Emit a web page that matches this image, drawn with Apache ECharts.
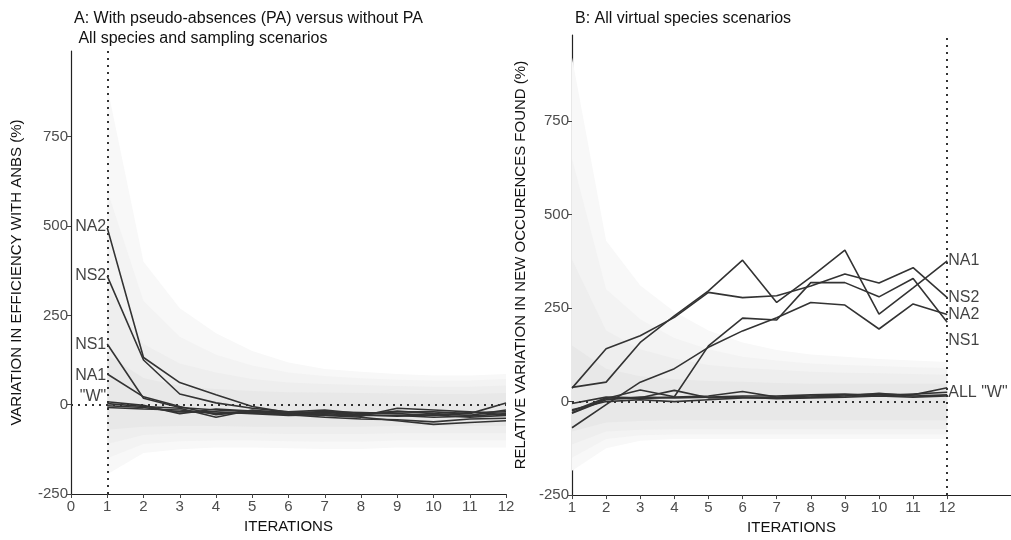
<!DOCTYPE html>
<html><head><meta charset="utf-8">
<script src="https://cdn.jsdelivr.net/npm/echarts@6/dist/echarts.min.js"></script>
<style>html,body{margin:0;padding:0;background:#fff}#c{width:1011px;height:540px}</style>
</head><body><div id="c"></div>
<script>
// ---------- DATA ----------
const iterations = [1,2,3,4,5,6,7,8,9,10,11,12];
const yTicks = [-250, 0, 250, 500, 750];
const xTicksA = [0,1,2,3,4,5,6,7,8,9,10,11,12];
const xTicksB = [1,2,3,4,5,6,7,8,9,10,11,12];

// Panel A: variation in efficiency with ANBS (%)
const A_NA2 = [495, 132, 62, 28, -5, -22, -25, -30, -30, -35, -32, -25];
const A_NS2 = [360, 125, 30, 5, -10, -20, -22, -28, -32, -28, -35, -30];
const A_NS1 = [170, 18, -8, -15, -20, -28, -35, -40, -42, -48, -40, -38];
const A_NA1 = [86, 22, -5, -28, -18, -25, -30, -35, -45, -55, -50, -45];
const A_W1 = [8, -2, -25, -12, -18, -20, -15, -25, -20, -20, -25, 5];
const A_W2 = [3, -5, -10, -35, -15, -25, -20, -22, -25, -30, -22, -20];
const A_W3 = [-3, -8, -20, -20, -25, -30, -28, -32, -10, -15, -20, -28];
const A_W4 = [-8, -12, -15, -25, -22, -27, -18, -28, -18, -25, -30, -15];
const A_labels = ['NA2', 'NS2', 'NS1', 'NA1', '"W"'];
const A_labelY = [498, 361, 168, 81, 22];

// Panel A envelopes (lower / upper), outermost first
const A_env1Lo = [-195, -135, -125, -120, -120, -122, -124, -124, -120, -120, -120, -120];
const A_env1Hi = [890, 400, 270, 200, 150, 118, 100, 92, 86, 82, 82, 86];
const A_env2Lo = [-150, -110, -102, -100, -100, -102, -104, -104, -100, -100, -100, -100];
const A_env2Hi = [600, 290, 190, 140, 110, 90, 80, 74, 70, 68, 68, 72];
const A_env3Lo = [-110, -85, -80, -80, -80, -82, -82, -82, -80, -80, -80, -80];
const A_env3Hi = [330, 170, 115, 90, 72, 62, 58, 55, 52, 50, 50, 54];
const A_env4Lo = [-70, -62, -60, -60, -62, -62, -62, -62, -60, -60, -60, -60];
const A_env4Hi = [140, 75, 52, 44, 38, 35, 34, 33, 31, 30, 30, 33];

// Panel B: relative variation in new occurences found (%)
const B_NA1 = [38, 52, 158, 229, 296, 378, 265, 333, 405, 234, 304, 376];
const B_NS2 = [36, 141, 176, 225, 292, 278, 283, 309, 341, 317, 358, 278];
const B_NA2 = [-30, 8, 31, 13, 149, 223, 218, 318, 318, 280, 329, 212];
const B_NS1 = [-70, -8, 52, 88, 145, 189, 224, 265, 258, 194, 261, 233];
const B_W1 = [-25, 10, 8, 12, 15, 27, 12, 15, 18, 20, 18, 37];
const B_W2 = [-31, 5, 12, 10, 12, 15, 15, 18, 20, 15, 20, 25];
const B_W3 = [-22, 0, 5, 0, 5, 10, 10, 12, 15, 22, 15, 18];
const B_W4 = [-5, 12, 10, 30, 10, 12, 8, 10, 12, 15, 12, 15];
const B_labels = ['NA1', 'NS2', 'NA2', 'NS1', 'ALL "W"'];
const B_labelY = [376, 277, 232, 163, 24];

// Panel B envelopes, outermost first
const B_env1Lo = [-185, -125, -105, -100, -100, -100, -100, -100, -100, -100, -100, -100];
const B_env1Hi = [920, 430, 310, 240, 190, 158, 138, 126, 120, 114, 110, 106];
const B_env2Lo = [-150, -100, -90, -88, -88, -88, -88, -88, -88, -88, -88, -88];
const B_env2Hi = [650, 300, 220, 170, 140, 120, 110, 102, 98, 95, 92, 90];
const B_env3Lo = [-115, -80, -75, -74, -74, -74, -74, -74, -74, -74, -74, -74];
const B_env3Hi = [380, 190, 140, 115, 98, 90, 85, 80, 77, 76, 74, 72];
const B_env4Lo = [-80, -56, -52, -50, -50, -50, -50, -50, -50, -50, -50, -50];
const B_env4Hi = [150, 88, 68, 60, 55, 53, 50, 48, 48, 48, 48, 48];

// ---------- BUILD ----------
const FONT = 'Liberation Sans, Arial, sans-serif';
const LINE_COL = '#333333';
const pts = arr => arr.map((v, i) => [iterations[i], v]);

function band(lo, hi, color, ax) {
  return { type: 'custom', xAxisIndex: ax, yAxisIndex: ax, silent: true, z: 1,
    data: [[iterations[0], lo[0]]],
    renderItem: function (params, api) {
      const poly = [];
      for (let i = 0; i < iterations.length; i++) poly.push(api.coord([iterations[i], hi[i]]));
      for (let i = iterations.length - 1; i >= 0; i--) poly.push(api.coord([iterations[i], lo[i]]));
      return { type: 'polygon', shape: { points: poly }, style: { fill: color } };
    },
    clip: true };
}
function line(arr, ax) {
  return { type: 'line', xAxisIndex: ax, yAxisIndex: ax, data: pts(arr), symbol: 'none',
    lineStyle: { color: LINE_COL, width: 1.6 }, z: 5, silent: true };
}
function labels(names, ys, x, ax, pos) {
  return { type: 'scatter', xAxisIndex: ax, yAxisIndex: ax, symbolSize: 0, z: 8, silent: true,
    data: names.map((n, i) => ({ value: [x, ys[i]], name: n })),
    label: { show: true, position: pos, distance: 1, formatter: p => p.name,
      color: '#111', fontSize: 16, fontFamily: FONT } };
}
const dotted = { color: '#333', width: 2, type: [2, 5] };
const bandColors = ['#f8f8f8', '#f3f3f3', '#eeeeee', '#e8e8e8'];

const series = [];
[[A_env1Lo, A_env1Hi], [A_env2Lo, A_env2Hi], [A_env3Lo, A_env3Hi], [A_env4Lo, A_env4Hi]]
  .forEach((b, i) => series.push(band(b[0], b[1], bandColors[i], 0)));
[[B_env1Lo, B_env1Hi], [B_env2Lo, B_env2Hi], [B_env3Lo, B_env3Hi], [B_env4Lo, B_env4Hi]]
  .forEach((b, i) => series.push(band(b[0], b[1], bandColors[i], 1)));
// reference dotted lines
series.push({ type: 'line', xAxisIndex: 0, yAxisIndex: 0, data: [], silent: true,
  markLine: { symbol: 'none', silent: true, label: { show: false }, lineStyle: dotted, z: 6,
    data: [{ xAxis: 1 }, { yAxis: 0 }] } });
series.push({ type: 'line', xAxisIndex: 1, yAxisIndex: 1, data: [], silent: true,
  markLine: { symbol: 'none', silent: true, label: { show: false }, lineStyle: dotted, z: 6,
    data: [{ xAxis: 12 }, [{ coord: [1, 0] }, { coord: [12, 0] }]] } });
[A_W1, A_W2, A_W3, A_W4, A_NA1, A_NS1, A_NS2, A_NA2].forEach(a => series.push(line(a, 0)));
[B_W1, B_W2, B_W3, B_W4, B_NS1, B_NA2, B_NS2, B_NA1].forEach(a => series.push(line(a, 1)));
series.push(labels(A_labels, A_labelY, 1, 0, 'left'));
series.push(labels(B_labels, B_labelY, 12, 1, 'right'));

const axisLabelStyle = { color: '#4d4d4d', fontSize: 15, fontFamily: FONT };
const nameStyle = { color: '#111', fontSize: 15, fontFamily: FONT };
function yAx(ix, max, name, gap) {
  return { type: 'value', gridIndex: ix, min: -250, max: max, interval: 250,
    splitLine: { show: false },
    axisLine: { show: true, lineStyle: { color: '#222', width: 1.2 } },
    axisTick: { show: true, length: 4, lineStyle: { color: '#444' }, customValues: yTicks },
    axisLabel: Object.assign({ margin: 3, customValues: yTicks }, axisLabelStyle),
    name: name, nameLocation: 'middle', nameGap: gap, nameTextStyle: nameStyle };
}
function xAx(ix, min, max, ticks) {
  return { type: 'value', gridIndex: ix, min: min, max: max, interval: 1,
    splitLine: { show: false },
    axisLine: { show: true, onZero: false, lineStyle: { color: '#222', width: 1.2 } },
    axisTick: { show: true, length: 4, lineStyle: { color: '#444' }, customValues: ticks },
    axisLabel: Object.assign({ margin: 5, customValues: ticks }, axisLabelStyle),
    name: 'ITERATIONS', nameLocation: 'middle', nameGap: 24, nameTextStyle: nameStyle };
}

const option = {
  backgroundColor: '#fff',
  animation: false,
  title: [
    { text: 'A: With pseudo-absences (PA) versus without PA\n All species and sampling scenarios',
      left: 69, top: 4, textStyle: { fontSize: 16, fontWeight: 'normal', color: '#111', fontFamily: FONT, lineHeight: 20 } },
    { text: 'B: All virtual species scenarios', left: 570, top: 6,
      textStyle: { fontSize: 16, fontWeight: 'normal', color: '#111', fontFamily: FONT } }
  ],
  grid: [
    { left: 71, top: 51, width: 435, height: 443 },
    { left: 572, top: 35, width: 439, height: 461 }
  ],
  xAxis: [ xAx(0, 0, 12, xTicksA), xAx(1, 1, 13.87, xTicksB) ],
  yAxis: [ yAx(0, 990, 'VARIATION IN EFFICIENCY WITH ANBS (%)', 47),
           yAx(1, 980, 'RELATIVE VARIATION IN NEW OCCURENCES FOUND (%)', 44) ],
  series: series
};
const chart = echarts.init(document.getElementById('c'), null, { renderer: 'canvas' });
chart.setOption(option);
</script></body></html>
